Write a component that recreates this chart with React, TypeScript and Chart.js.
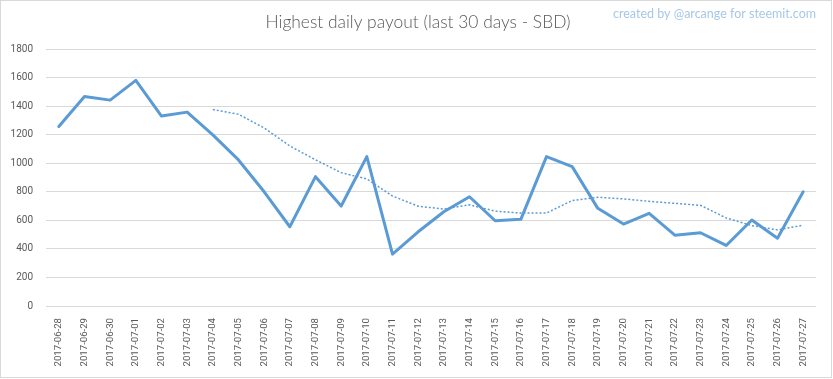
import React, { useEffect, useRef } from "react";
import { Chart, registerables } from "chart.js";

Chart.register(...registerables);

const TITLE = "Highest daily payout (last 30 days - SBD)";
const WATERMARK = "created by @arcange for steemit.com";

const categories = [
  "2017-06-28", "2017-06-29", "2017-06-30", "2017-07-01", "2017-07-02", "2017-07-03",
  "2017-07-04", "2017-07-05", "2017-07-06", "2017-07-07", "2017-07-08", "2017-07-09",
  "2017-07-10", "2017-07-11", "2017-07-12", "2017-07-13", "2017-07-14", "2017-07-15",
  "2017-07-16", "2017-07-17", "2017-07-18", "2017-07-19", "2017-07-20", "2017-07-21",
  "2017-07-22", "2017-07-23", "2017-07-24", "2017-07-25", "2017-07-26", "2017-07-27",
];

const payout = [
  1257, 1468, 1442, 1580, 1330, 1358,
  1199, 1023, 800, 555, 906, 700,
  1046, 363, 520, 660, 765, 597,
  607, 1046, 976, 684, 574, 649,
  496, 513, 424, 602, 475, 800,
];

// 7-day moving average trendline (dotted)
const trend = [
  null, null, null, null, null, null,
  1376, 1343, 1247, 1121, 1024, 934,
  890, 770, 699, 679, 709, 664,
  651, 651, 739, 762, 750, 733,
  719, 705, 617, 563, 533, 566,
];

const yTicks = { min: 0, max: 1800, step: 200 };

const W = 833;
const H = 379;
const FONT = "Roboto, 'Noto Sans', sans-serif";

const framePlugin = {
  id: "frame",
  beforeDraw(chart: any) {
    const ctx = chart.ctx;
    ctx.save();
    ctx.fillStyle = "#ffffff";
    ctx.fillRect(0, 0, chart.width, chart.height);
    ctx.restore();
  },
  afterDraw(chart: any) {
    const ctx = chart.ctx;
    ctx.save();
    ctx.strokeStyle = "#d9d9d9";
    ctx.lineWidth = 1;
    ctx.strokeRect(0.5, 0.5, 831, 377);
    // title
    ctx.fillStyle = "#595959";
    ctx.font = `300 17.4px Lato, ${FONT}`;
    ctx.textAlign = "center";
    ctx.textBaseline = "middle";
    ctx.fillText(TITLE, 418, 22);
    // watermark
    ctx.fillStyle = "#a6c8e8";
    ctx.font = `12.5px Lato, ${FONT}`;
    ctx.textAlign = "right";
    ctx.fillText(WATERMARK, 816, 14);
    ctx.restore();
  },
};

export default function App() {
  const ref = useRef<HTMLCanvasElement | null>(null);

  useEffect(() => {
    document.body.style.margin = "0";
    const canvas = ref.current;
    if (!canvas) return;
    const chart = new Chart(canvas, {
      type: "line",
      data: {
        labels: categories,
        datasets: [
          {
            label: "Payout",
            data: payout,
            borderColor: "#5b9bd5",
            backgroundColor: "#5b9bd5",
            borderWidth: 3,
            pointRadius: 0,
            tension: 0,
            borderJoinStyle: "round",
            borderCapStyle: "round",
          },
          {
            label: "Trend",
            data: trend as any,
            borderColor: "#5b9bd5",
            backgroundColor: "#5b9bd5",
            borderWidth: 1.5,
            borderDash: [2, 2],
            pointRadius: 0,
            tension: 0,
            spanGaps: false,
          },
        ],
      },
      options: {
        responsive: false,
        animation: false,
        devicePixelRatio: 1,
        layout: { padding: { left: 0, right: 17, top: 49, bottom: 0 } },
        plugins: {
          legend: { display: false },
          title: { display: false },
          tooltip: { enabled: false },
        },
        scales: {
          x: {
            type: "category",
            offset: true,
            grid: { display: false, drawTicks: false },
            border: { display: false },
            ticks: {
              autoSkip: false,
              minRotation: 90,
              maxRotation: 90,
              padding: 12,
              color: "#595959",
              font: { family: FONT, size: 9.6 },
            },
            afterFit(scale: any) {
              scale.height = 73;
            },
          },
          y: {
            min: yTicks.min,
            max: yTicks.max,
            grid: { color: "#d9d9d9", lineWidth: 1, drawTicks: false },
            border: { display: false },
            ticks: {
              stepSize: yTicks.step,
              padding: 13,
              color: "#595959",
              font: { family: FONT, size: 10 },
              callback: (v: any) => String(v),
            },
            afterFit(scale: any) {
              scale.width = 46;
            },
          },
        },
      },
      plugins: [framePlugin],
    });
    return () => chart.destroy();
  }, []);

  return (
    <div style={{ position: "fixed", left: 0, top: 0, width: W, height: H }}>
      <canvas ref={ref} width={W} height={H} style={{ width: W, height: H, display: "block" }} />
    </div>
  );
}
